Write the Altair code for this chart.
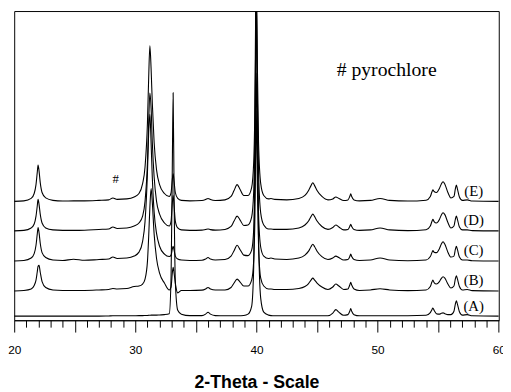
import altair as alt
import pandas as pd

# 2-theta grid (degrees)
X = [20.0, 20.8, 21.4, 21.65, 21.8, 21.9, 21.97, 22.05, 22.15, 22.3,
     22.6, 23.2, 24.0, 24.9, 25.8, 27.0, 27.8, 28.15, 28.5, 29.3,
     29.9, 30.3, 30.6, 30.8, 31.0, 31.1, 31.2, 31.3, 31.4, 31.55,
     31.75, 32.0, 32.4, 32.8, 32.95, 33.05, 33.12, 33.2, 33.3, 33.5,
     33.8, 34.5, 35.5, 35.8, 36.0, 36.2, 36.6, 37.4, 37.9, 38.15,
     38.4, 38.65, 38.95, 39.3, 39.6, 39.77, 39.87, 39.93, 39.97, 40.01,
     40.07, 40.17, 40.35, 40.6, 41.0, 41.2, 41.5, 42.5, 43.5, 44.0,
     44.3, 44.5, 44.65, 44.8, 45.0, 45.4, 45.9, 46.3, 46.55, 46.8,
     47.2, 47.55, 47.7, 47.78, 47.86, 48.05, 48.5, 49.4, 50.2, 51.0,
     52.5, 54.0, 54.35, 54.48, 54.56, 54.66, 54.85, 55.1, 55.25, 55.4,
     55.55, 55.8, 56.05, 56.3, 56.42, 56.5, 56.58, 56.75, 57.0, 57.4,
     57.8, 60.0]

# intensities above each trace's own baseline (arbitrary units)
E = [0, 0.5, 3, 8, 17, 29, 37, 31, 19, 9,
     3.5, 1, 0.3, 0.5, 0.5, 1, 1.5, 3.5, 2, 2.5,
     4.5, 8, 18, 35, 80, 125, 158, 135, 100, 60,
     32, 17, 8, 5, 9, 22, 28, 20, 9, 3,
     1, 0.5, 0.8, 1.8, 3, 1.8, 0.8, 1.5, 5, 11,
     17, 12, 6, 6, 14, 40, 100, 190, 240, 215,
     140, 60, 18, 6, 2.5, 3, 2, 1.5, 3, 6,
     11, 16, 19, 16, 11, 5, 1.5, 2.5, 4.4, 3,
     0.8, 1.5, 5, 7.7, 5, 1.5, 0.5, 1, 3, 1,
     0.3, 1.2, 5, 9.5, 11.7, 10, 9, 13, 17.5, 20,
     17.5, 9, 3.5, 5, 13, 16.7, 13, 4.5, 1, 1.5,
     0.3, 0]
D = [0, 0.5, 3, 7, 15, 25, 32, 27, 17, 8,
     3, 1, 0.5, 0.5, 0.7, 1.5, 2, 4, 2.5, 3,
     5, 8, 15, 30, 70, 110, 140, 125, 90, 55,
     30, 17, 8, 5, 10, 28, 36, 25, 10, 3,
     1, 0.5, 0.8, 1.5, 2, 1.3, 0.8, 1.5, 4.5, 10,
     15, 11, 5.5, 6, 14, 40, 100, 190, 240, 215,
     140, 60, 18, 6, 2, 2, 1.5, 1.5, 3, 6,
     10, 14.5, 17, 14.5, 10, 4.5, 1.5, 3.5, 6, 4,
     1, 1.5, 4.5, 6.7, 4.5, 1.5, 0.5, 1, 3, 1,
     0.3, 1.2, 5, 9.5, 11.7, 9.5, 8, 11.5, 16, 18.4,
     16.5, 8.5, 3, 5, 12, 15, 12, 4, 1, 1,
     0.3, 0]
C = [0, 0.5, 3, 7.5, 16, 27, 34, 29, 18, 8.5,
     3.5, 1, 0.5, 1.8, 0.7, 1.5, 2, 4, 2.5, 3,
     5, 9, 20, 40, 90, 130, 149, 120, 85, 50,
     28, 15, 7, 4.5, 6, 12, 15, 11, 5, 2,
     1, 0.5, 0.8, 2, 3.5, 2, 1, 1.5, 5, 10.5,
     16, 11.5, 6, 5.5, 11, 32, 79, 150, 191, 172,
     112, 48, 14, 5, 2.5, 3, 2, 1.5, 3, 6,
     10, 14.5, 17, 14.5, 10, 4.5, 1.5, 3, 5, 3.5,
     1, 1.5, 4.5, 7, 4.5, 1.5, 0.5, 1, 3, 1,
     0.3, 1, 4.5, 8.5, 10.6, 9, 8.5, 12.5, 17, 19.6,
     17, 9, 4, 5, 12, 15, 12, 4, 1, 1,
     0.3, 0]
B = [0, 0.5, 2, 5.5, 11, 19, 25, 26, 19, 9.5,
     3.5, 1, 0.5, 0.5, 0.5, 1, 1.5, 2.5, 2, 2.5,
     4.5, 5, 7, 12, 30, 55, 85, 104, 90, 58,
     33, 18, 8, 1, 4, 18, 24, 18, 8, -2,
     0.5, 0.5, 0.8, 2, 3.5, 2, 1, 1, 3.5, 8,
     12, 9, 5, 5, 11, 31, 76, 144, 183, 165,
     108, 46, 13, 5, 2, 2, 1.5, 1.5, 2.5, 4.5,
     7.5, 11, 13, 11, 8, 4, 1.5, 4, 7, 5,
     1.5, 2, 6, 8.7, 6, 2, 0.5, 1, 2.2, 1,
     0.3, 1, 4.5, 9, 11, 8.5, 7, 9.5, 12.5, 14.4,
     13, 7, 3, 5, 12.5, 15.4, 12.5, 4.5, 1, 1.5,
     0.3, 0]
A = [0, 0, 0, 0, 0, 0, 0, 0, 0, 0,
     0, 0, 0, 0, 0, 0, 0.2, 0.3, 0.3, 0.3,
     0.4, 0.5, 0.5, 0.6, 0.7, 0.8, 0.9, 1, 1, 1,
     1, 1.2, 1.5, 2.5, 40, 150, 227, 120, 35, 6,
     2, 0.5, 0.5, 2, 4, 2, 0.5, 0.3, 0.3, 0.3,
     0.3, 0.4, 0.6, 2, 10, 50, 150, 260, 330, 300,
     200, 80, 18, 4, 1, 0.5, 0.3, 0.3, 0.3, 0.3,
     0.3, 0.3, 0.3, 0.3, 0.3, 0.3, 0.3, 3, 6.6, 4,
     0.8, 1.5, 5, 7.6, 5, 1.5, 0.3, 0.3, 0.3, 0.3,
     0.3, 0.8, 3.5, 6.5, 8.3, 6, 2.5, 2, 2.8, 3.3,
     2.5, 1.5, 1.5, 5, 12.5, 15.6, 12.5, 4.5, 1, 1.5,
     0.3, 0]

SAMPLES = ["(A)", "(B)", "(C)", "(D)", "(E)"]
OFFSETS = [4.2, 29.8, 60.2, 90.8, 120.8]
LABEL_X = 57.93
LABEL_DY = 10.7

ANNOT_TEXT = ["# pyrochlore", "#"]
ANNOT_X = [46.62, 28.11]
ANNOT_Y = [254.5, 143.5]
ANNOT_SIZE = [20, 13]

rows = []
for name, vals, off in zip(SAMPLES, [A, B, C, D, E], OFFSETS):
    for x, v in zip(X, vals):
        rows.append({"theta": x, "y": v + off, "sample": name})
df = pd.DataFrame(rows)

lab_df = pd.DataFrame({"sample": SAMPLES, "theta": [LABEL_X] * 5,
                       "y": [o + LABEL_DY for o in OFFSETS]})
ann_df = pd.DataFrame({"text": ANNOT_TEXT, "theta": ANNOT_X, "y": ANNOT_Y,
                       "size": ANNOT_SIZE})

xscale = alt.Scale(domain=[20, 60], nice=False, zero=False)
yscale = alt.Scale(domain=[0, 314.2], nice=False, zero=False)

xaxis = alt.Axis(
    values=list(range(20, 61)),
    labelExpr="datum.value % 10 === 0 ? datum.label : ''",
    labelOverlap=False, labelFlush=False,
    tickSize={"condition": {"test": "datum.value % 5 === 0", "value": 12}, "value": 7},
    tickColor="black", tickWidth=1,
    domainColor="black", domainWidth=1,
    labelFont="Liberation Sans", labelFontSize=12, labelColor="black",
    labelPadding=13, grid=False,
    title="2-Theta - Scale", titleFont="Liberation Sans", titleFontSize=18,
    titleFontWeight="bold", titleColor="black", titlePadding=18.5,
)

X_ENC = alt.X("theta:Q", scale=xscale, axis=xaxis)
Y_ENC = alt.Y("y:Q", scale=yscale, axis=None)

lines = alt.Chart(df).mark_line(color="black", strokeWidth=1.1,
                                interpolate="monotone", clip=True).encode(
    x=X_ENC, y=Y_ENC, detail="sample:N",
)

labels = alt.Chart(lab_df).mark_text(font="Liberation Serif", fontSize=15,
                                     align="center", baseline="middle",
                                     color="black").encode(
    x=X_ENC, y=Y_ENC, text="sample:N",
)

ann = alt.Chart(ann_df).mark_text(font="Liberation Serif", align="left",
                                  baseline="middle", color="black").encode(
    x=X_ENC, y=Y_ENC, text="text:N",
    size=alt.Size("size:Q", scale=None, legend=None),
)

chart = alt.layer(lines, labels, ann).properties(
    width=492.4, height=314.2,
    autosize=alt.AutoSizeParams(type="none"),
    padding={"left": 6.3, "top": 0, "right": 4.3, "bottom": 69.5},
).configure_view(stroke="black", strokeWidth=1)

chart.save("out.html", embed_options={"renderer": "svg", "actions": False})
